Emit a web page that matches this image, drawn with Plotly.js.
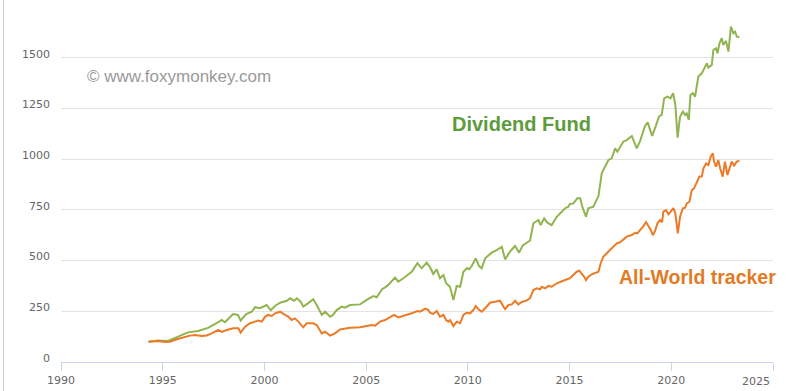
<!DOCTYPE html>
<html>
<head>
<meta charset="utf-8">
<script src="https://cdn.plot.ly/plotly-3.0.1.min.js"></script>
<style>
  html, body { margin: 0; padding: 0; background: #fff; }
  #wrap { position: relative; width: 788px; height: 391px; overflow: hidden; }
  #edge { position: absolute; left: 3px; top: 0; width: 1px; height: 391px; background: #d0d0d0; }
  #chart { position: absolute; left: 0; top: 0; width: 788px; height: 391px; }
</style>
</head>
<body>
<div id="wrap"><div id="chart"></div><div id="edge"></div></div>
<script>
// Dividend Fund (growth of 100)
const dividendYears = [1994.30,1994.77,1995.26,1995.69,1996.24,1996.74,1997.23,1997.65,1997.90,1998.06,1998.46,1998.70,1998.83,1999.10,1999.38,1999.54,1999.78,2000.11,2000.31,2000.52,2000.77,2001.10,2001.26,2001.46,2001.59,2001.78,2001.91,2002.14,2002.40,2002.57,2002.82,2002.98,2003.23,2003.37,2003.55,2003.80,2003.96,2004.21,2004.70,2005.03,2005.35,2005.52,2005.77,2005.93,2006.09,2006.42,2006.58,2006.83,2007.07,2007.24,2007.52,2007.73,2007.98,2008.14,2008.30,2008.47,2008.63,2008.80,2008.93,2009.12,2009.29,2009.45,2009.62,2009.78,2009.95,2010.07,2010.19,2010.39,2010.55,2010.68,2010.85,2011.01,2011.17,2011.42,2011.67,2011.83,2012.07,2012.32,2012.52,2012.70,2013.06,2013.22,2013.47,2013.58,2013.75,2013.91,2014.12,2014.37,2014.62,2014.78,2014.94,2015.02,2015.19,2015.38,2015.52,2015.65,2015.81,2015.92,2016.17,2016.42,2016.58,2016.75,2016.91,2017.07,2017.24,2017.35,2017.48,2017.64,2017.81,2018.06,2018.30,2018.47,2018.71,2018.84,2018.96,2019.06,2019.24,2019.40,2019.53,2019.65,2019.81,2019.96,2020.09,2020.20,2020.31,2020.43,2020.57,2020.68,2020.76,2020.86,2020.94,2021.06,2021.17,2021.33,2021.50,2021.66,2021.75,2021.82,2021.99,2022.07,2022.20,2022.27,2022.37,2022.48,2022.56,2022.69,2022.81,2022.93,2023.05,2023.14,2023.22,2023.35];
const dividendValues = [100,106,104,122,146,153,168,192,207,196,236,232,204,236,248,270,265,281,255,276,292,302,314,302,314,297,273,289,309,281,232,248,223,232,256,273,268,281,284,306,325,319,358,368,380,416,396,413,432,445,487,462,490,467,434,457,413,429,388,371,306,375,371,445,462,457,473,511,473,462,511,527,539,552,568,506,544,572,539,575,599,684,700,675,708,687,675,716,741,758,766,779,782,807,807,758,716,758,766,818,930,963,996,1004,1053,1037,1061,1086,1094,1114,1053,1090,1164,1181,1144,1115,1164,1211,1218,1300,1308,1300,1325,1267,1106,1209,1234,1218,1226,1193,1316,1325,1308,1407,1423,1456,1473,1451,1464,1538,1546,1522,1571,1596,1563,1583,1530,1653,1620,1628,1604,1601];

// All-World tracker (growth of 100)
const worldYears = [1994.30,1994.78,1995.11,1995.36,1995.69,1996.01,1996.34,1996.59,1996.92,1997.16,1997.41,1997.73,1997.90,1998.15,1998.47,1998.72,1998.83,1999.05,1999.29,1999.54,1999.70,1999.87,2000.03,2000.19,2000.36,2000.52,2000.77,2001.01,2001.18,2001.34,2001.50,2001.67,2001.91,2002.08,2002.40,2002.57,2002.82,2002.98,2003.23,2003.47,2003.72,2004.21,2004.70,2005.03,2005.28,2005.44,2005.68,2005.93,2006.17,2006.37,2006.58,2006.83,2007.07,2007.24,2007.52,2007.65,2007.90,2008.06,2008.14,2008.30,2008.47,2008.63,2008.80,2008.93,2009.04,2009.12,2009.29,2009.45,2009.62,2009.78,2009.95,2010.11,2010.27,2010.39,2010.52,2010.68,2010.85,2011.09,2011.34,2011.58,2011.75,2011.83,2011.99,2012.16,2012.32,2012.48,2012.65,2012.90,2013.06,2013.22,2013.39,2013.55,2013.63,2013.80,2013.96,2014.12,2014.37,2014.62,2014.78,2015.02,2015.19,2015.35,2015.48,2015.60,2015.71,2015.81,2015.92,2016.09,2016.25,2016.42,2016.53,2016.66,2016.83,2016.99,2017.15,2017.32,2017.48,2017.64,2017.81,2018.06,2018.22,2018.33,2018.47,2018.63,2018.76,2018.87,2018.99,2019.09,2019.20,2019.32,2019.45,2019.55,2019.61,2019.74,2019.86,2019.97,2020.10,2020.20,2020.32,2020.43,2020.57,2020.68,2020.76,2020.89,2021.01,2021.12,2021.25,2021.38,2021.50,2021.58,2021.71,2021.82,2021.94,2022.04,2022.10,2022.20,2022.31,2022.40,2022.53,2022.64,2022.76,2022.86,2022.97,2023.09,2023.22,2023.35];
const worldValues = [100,104,99,100,112,122,130,133,128,131,141,158,148,158,166,166,145,174,191,199,204,199,223,232,227,240,248,232,223,207,215,199,171,191,191,182,141,149,130,141,160,169,171,177,182,179,199,207,219,232,220,227,237,240,251,248,263,256,243,237,251,223,232,207,199,207,177,199,191,232,243,240,256,276,260,248,265,292,297,302,273,261,281,284,302,284,296,304,315,355,363,358,371,363,375,371,388,396,404,413,429,445,450,437,421,404,421,432,437,445,487,519,536,552,568,585,590,605,618,626,637,634,650,670,690,673,651,625,645,684,700,689,741,749,728,741,758,733,634,716,758,761,782,790,848,856,889,914,914,955,979,971,1012,1029,988,963,996,955,914,988,922,955,988,968,988,993];

const xTicks = [1990, 1995, 2000, 2005, 2010, 2015, 2020, 2025];
// the last label is drawn separately, pushed left to stay inside the chart as in the original
const xTickText = ['1990', '1995', '2000', '2005', '2010', '2015', '2020', ''];
const lastXLabel = '2025';
const yTicks = [0, 250, 500, 750, 1000, 1250, 1500, 1750];
const yTickText = ['0', '250', '500', '750', '1000', '1250', '1500', ''];

const traces = [
  { x: dividendYears, y: dividendValues, type: 'scatter', mode: 'lines', name: 'Dividend Fund',
    line: { color: '#92b450', width: 2 }, hoverinfo: 'skip' },
  { x: worldYears, y: worldValues, type: 'scatter', mode: 'lines', name: 'All-World tracker',
    line: { color: '#ec7a26', width: 2 }, hoverinfo: 'skip' }
];

const tickFont = { family: 'DejaVu Sans, sans-serif', size: 11, color: '#666666' };

const layout = {
  width: 788, height: 391,
  margin: { l: 61, r: 15, t: 7, b: 29, pad: 0 },
  paper_bgcolor: '#ffffff', plot_bgcolor: '#ffffff',
  showlegend: false,
  font: tickFont,
  xaxis: {
    range: [1990, 2025], tickmode: 'array', tickvals: xTicks, ticktext: xTickText,
    showgrid: false, zeroline: false, showline: true, linecolor: '#ccd6eb', linewidth: 1,
    ticks: 'outside', ticklen: 8, tickcolor: '#ccd6eb', tickwidth: 1,
    tickfont: tickFont, fixedrange: true
  },
  yaxis: {
    range: [0, 1750], tickmode: 'array', tickvals: yTicks, ticktext: yTickText,
    showgrid: true, gridcolor: '#e3e3e3', gridwidth: 1, zeroline: false, showline: false,
    ticks: '', ticklabelstandoff: 10, ticklabelshift: -4,
    tickfont: tickFont, fixedrange: true
  },
  annotations: [
    { xref: 'paper', yref: 'paper', x: 1, xshift: -1, y: 0, yshift: -11, xanchor: 'right', yanchor: 'top',
      text: lastXLabel, showarrow: false, font: tickFont },
    { xref: 'paper', yref: 'paper', x: (85 - 61) / 712, y: (362 - 77) / 355, xanchor: 'left', yanchor: 'middle',
      text: '© www.foxymonkey.com', showarrow: false,
      font: { family: 'Liberation Sans, Arial, sans-serif', size: 17, color: '#9a9a9a' } },
    { xref: 'paper', yref: 'paper', x: (521 - 61) / 712, y: (362 - 124) / 355, xanchor: 'center', yanchor: 'middle',
      text: '<b>Dividend Fund</b>', showarrow: false,
      font: { family: 'Liberation Sans, Arial, sans-serif', size: 20, color: '#5c9c3b' } },
    { xref: 'paper', yref: 'paper', x: (697 - 61) / 712, y: (362 - 277) / 355, xanchor: 'center', yanchor: 'middle',
      text: '<b>All-World tracker</b>', showarrow: false,
      font: { family: 'Liberation Sans, Arial, sans-serif', size: 19.5, color: '#e27b25' } }
  ]
};

Plotly.newPlot('chart', traces, layout, { staticPlot: true, displayModeBar: false });
</script>
</body>
</html>
